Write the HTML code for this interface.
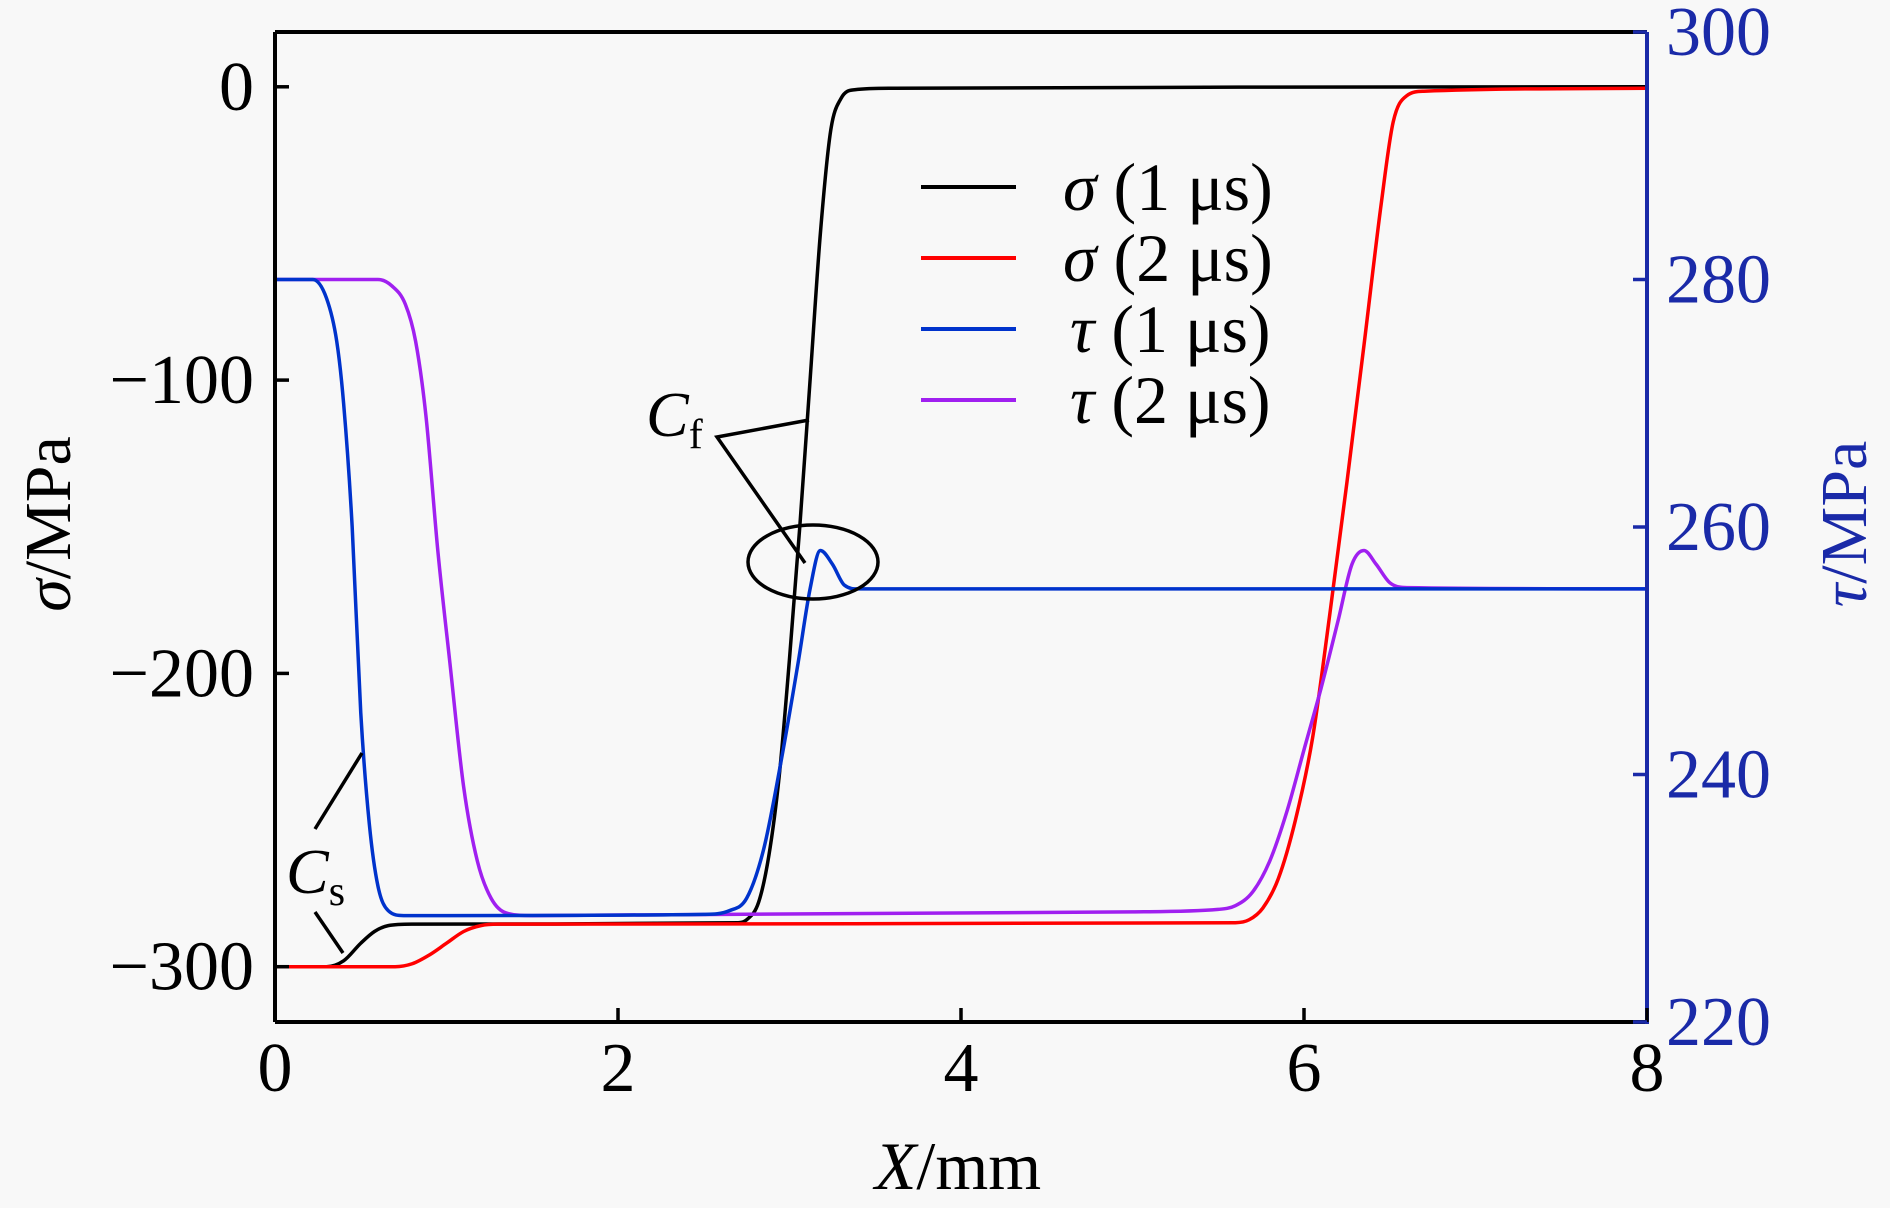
<!DOCTYPE html>
<html><head><meta charset="utf-8"><style>
html,body{margin:0;padding:0;background:#f8f8f8;}
svg{display:block;font-family:"Liberation Serif",serif;}
</style></head><body>
<svg id="chart" width="1890" height="1208" viewBox="0 0 1890 1208" xmlns="http://www.w3.org/2000/svg">
<rect x="0" y="0" width="1890" height="1208" fill="#f8f8f8"/>
<g id="series"></g>
<g id="axes"></g>
<g font-size="68">
  <line x1="921" y1="187" x2="1016" y2="187" stroke="#000" stroke-width="4"/>
  <text x="1063" y="210"><tspan font-style="italic">σ</tspan> (1 μs)</text>
  <line x1="921" y1="258" x2="1016" y2="258" stroke="#ff0000" stroke-width="4"/>
  <text x="1063" y="281"><tspan font-style="italic">σ</tspan> (2 μs)</text>
  <line x1="921" y1="329" x2="1016" y2="329" stroke="#0033cc" stroke-width="4"/>
  <text x="1070" y="352"><tspan font-style="italic">τ</tspan> (1 μs)</text>
  <line x1="921" y1="400" x2="1016" y2="400" stroke="#a020f0" stroke-width="4"/>
  <text x="1070" y="423"><tspan font-style="italic">τ</tspan> (2 μs)</text>
</g>
<g stroke="#000" stroke-width="3.5" fill="none">
  <polyline points="809,420 717,437 805,563"/>
  <ellipse cx="813" cy="562" rx="65" ry="37"/>
</g>
<text x="646" y="436" font-size="64" font-style="italic">C<tspan font-style="normal" font-size="42" dy="12">f</tspan></text>
<g stroke="#000" stroke-width="3.5">
  <line x1="315" y1="829" x2="362" y2="753"/>
  <line x1="315" y1="912" x2="343" y2="953"/>
</g>
<text x="286" y="893" font-size="64" font-style="italic">C<tspan font-style="normal" font-size="42" dy="12">s</tspan></text>
<text x="958" y="1189" font-size="68" text-anchor="middle"><tspan font-style="italic">X</tspan>/mm</text>
<text transform="translate(70,524) rotate(-90)" font-size="66" text-anchor="middle"><tspan font-style="italic">σ</tspan>/MPa</text>
<text transform="translate(1866,524) rotate(-90)" font-size="66" text-anchor="middle" fill="#1a2aa8"><tspan font-style="italic">τ</tspan>/MPa</text>
</svg>
<script>
const xTicks = [0, 2, 4, 6, 8];
const sigmaTicks = [0, -100, -200, -300];
const tauTicks = [220, 240, 260, 280, 300];

const sigma1X = [0,0.3,0.4,0.5,0.58,0.66,0.8,2.7,2.75,2.82,2.88,2.94,3.0,3.06,3.12,3.18,3.24,3.3,3.38,3.6,8];
const sigma1Y = [-300,-300,-298,-292,-288,-286,-285.5,-285,-284,-278,-262,-235,-195,-150,-100,-50,-15,-4,-1,-0.5,0];
const sigma2X = [0,0.7,0.8,0.9,1.0,1.1,1.2,1.3,5.6,5.68,5.76,5.85,5.95,6.05,6.15,6.25,6.35,6.45,6.52,6.6,6.7,8];
const sigma2Y = [-300,-300,-299,-296,-292,-288,-286,-285.5,-285,-284,-280,-270,-250,-222,-180,-135,-88,-40,-12,-3,-1.5,-0.5];
const tau1X = [0,0.22,0.3,0.36,0.4,0.45,0.5,0.55,0.6,0.66,0.75,1.0,2.5,2.65,2.75,2.85,2.95,3.05,3.12,3.18,3.25,3.32,3.4,8];
const tau1Y = [280,280,278.5,275,270,260,245,236,231,229,228.6,228.6,228.7,229,230,234,241,249,255,258.1,257,255.3,255,255];
const tau2X = [0,0.6,0.68,0.76,0.82,0.88,0.95,1.02,1.1,1.18,1.26,1.35,1.5,5.0,5.5,5.6,5.7,5.8,5.9,6.0,6.1,6.2,6.28,6.35,6.42,6.5,6.6,8];
const tau2Y = [280,280,279.5,278,275,269,258,249,239,233,230,228.8,228.6,228.9,229.1,229.4,230.5,233,237,242,247,252.5,257,258.1,257,255.5,255.1,255];

const NS = 'http://www.w3.org/2000/svg';
const X0 = 275, X1 = 1647, YT = 32, YB = 1022;
function xs(v){ return X0 + (v - 0) / 8 * (X1 - X0); }
function ys(v){ return 86.8 + (-v) * 2.933; }
function yt(v){ return YT + (300 - v) * (YB - YT) / 80; }

function monoPath(px, py){
  const n = px.length, d = [], m = [];
  for (let i=0;i<n-1;i++) d.push((py[i+1]-py[i])/(px[i+1]-px[i]));
  m.push(d[0]);
  for (let i=1;i<n-1;i++) m.push(d[i-1]*d[i] <= 0 ? 0 : (d[i-1]+d[i])/2);
  m.push(d[n-2]);
  for (let i=0;i<n-1;i++){
    if (d[i]===0){ m[i]=0; m[i+1]=0; continue; }
    const a=m[i]/d[i], b=m[i+1]/d[i], s=a*a+b*b;
    if (s>9){ const t=3/Math.sqrt(s); m[i]=t*a*d[i]; m[i+1]=t*b*d[i]; }
  }
  let p = 'M'+px[0].toFixed(2)+','+py[0].toFixed(2);
  for (let i=0;i<n-1;i++){
    const h=(px[i+1]-px[i])/3;
    p += ' C'+(px[i]+h).toFixed(2)+','+(py[i]+m[i]*h).toFixed(2)+' '+(px[i+1]-h).toFixed(2)+','+(py[i+1]-m[i+1]*h).toFixed(2)+' '+px[i+1].toFixed(2)+','+py[i+1].toFixed(2);
  }
  return p;
}
function drawSeries(xArr, yArr, scale, color, name){
  const p = document.createElementNS(NS,'path');
  p.setAttribute('d', monoPath(xArr.map(xs), yArr.map(scale)));
  p.setAttribute('fill','none');
  p.setAttribute('stroke',color);
  p.setAttribute('stroke-width','3.5');
  
  
  document.getElementById('series').appendChild(p);
}
drawSeries(sigma1X, sigma1Y, ys, '#000000', 'sigma-1us-line');
drawSeries(sigma2X, sigma2Y, ys, '#ff0000', 'sigma-2us-line');
drawSeries(tau2X, tau2Y, yt, '#a020f0', 'tau-2us-line');
drawSeries(tau1X, tau1Y, yt, '#0033cc', 'tau-1us-line');

const ax = document.getElementById('axes');
function mk(tag, attrs){ const e=document.createElementNS(NS,tag); for (const k in attrs) e.setAttribute(k, attrs[k]); ax.appendChild(e); return e; }
let e;
e = mk('line',{x1:X0,y1:YT,x2:X1,y2:YT,stroke:'#000','stroke-width':4});


e = mk('line',{x1:X0,y1:YB,x2:X1,y2:YB,stroke:'#000','stroke-width':4});


e = mk('line',{x1:X0,y1:YT,x2:X0,y2:YB,stroke:'#000','stroke-width':4});


e = mk('line',{x1:X1,y1:YT,x2:X1,y2:YB+2,stroke:'#1a2aa8','stroke-width':4});



xTicks.forEach(v => {
  const x = xs(v);
  const t = mk('line',{x1:x,y1:YB,x2:x,y2:YB-14,stroke:'#000','stroke-width':3.5});
  
  
  const l = mk('text',{x:x,y:1091,'font-size':70,'text-anchor':'middle'});
  l.textContent = String(v);
  
  
});
sigmaTicks.forEach(v => {
  const y = ys(v);
  const t = mk('line',{x1:X0,y1:y,x2:X0+14,y2:y,stroke:'#000','stroke-width':3.5});
  
  
  const l = mk('text',{x:254,y:y+23,'font-size':70,'text-anchor':'end'});
  l.textContent = v < 0 ? '\u2212' + Math.abs(v) : String(v);
  
  
});
tauTicks.forEach(v => {
  const y = yt(v);
  const t = mk('line',{x1:X1,y1:y,x2:X1-14,y2:y,stroke:'#1a2aa8','stroke-width':3.5});
  
  
  const l = mk('text',{x:1666,y:y+23,'font-size':70,fill:'#1a2aa8'});
  l.textContent = String(v);
  
  
});
</script>
</body></html>
